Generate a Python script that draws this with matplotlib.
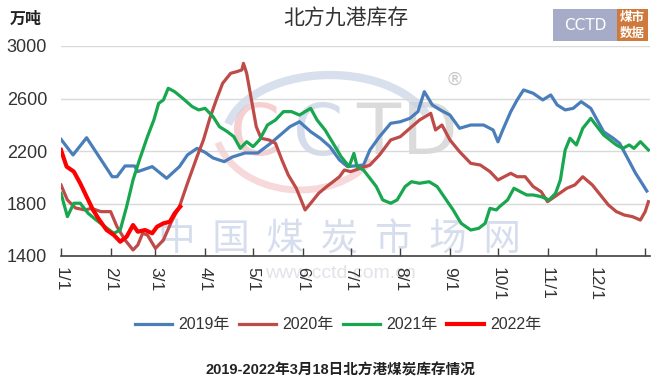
import matplotlib
matplotlib.use("Agg")
import matplotlib.pyplot as plt
from matplotlib.patches import Rectangle, Arc
import numpy as np

plt.rcParams['font.family'] = ['Liberation Sans', 'Noto Sans CJK SC', 'DejaVu Sans']

# ---- data (day of year, value in 万吨) ----
days_2019 = [0, 7.5, 16, 32, 35, 40, 46, 48, 57, 66, 74, 79, 85, 90, 95, 102, 107, 115, 123, 131,
             137, 143, 149, 156, 162, 168, 174, 179, 189, 193, 199, 206, 212, 218, 223, 227, 232,
             237, 243, 249, 256, 264, 270, 273, 276, 281, 285, 289, 295, 301, 306, 310, 315, 320,
             325, 331, 335, 339, 345, 349, 354, 359, 363, 366]
vals_2019 = [2289, 2170, 2301, 2004, 2004, 2086, 2086, 2043, 2081, 1992, 2081, 2170, 2220, 2190,
             2147, 2119, 2154, 2185, 2185, 2259, 2322, 2385, 2423, 2347, 2297, 2233, 2132, 2081,
             2093, 2208, 2309, 2411, 2423, 2449, 2500, 2652, 2551, 2513, 2474, 2373, 2398, 2398,
             2360, 2270, 2360, 2500, 2589, 2665, 2640, 2589, 2627, 2551, 2513, 2525, 2576, 2525,
             2436, 2347, 2297, 2259, 2145, 2030, 1954, 1895]

days_2020 = [0, 4, 9, 15, 19, 25, 31, 35, 40, 45, 48, 51, 54, 59, 64, 69, 74, 79, 85, 89, 93, 97,
             101, 106, 110, 113, 114, 116, 119, 122, 125, 130, 134, 138, 142, 147, 150, 152.5, 156,
             161, 166, 170, 174, 177, 181, 187, 193, 199, 206, 212, 218, 224, 231, 234, 238, 243,
             249, 256, 262, 268, 273, 281, 285, 290, 295, 300, 304, 310, 316, 321, 326, 332, 337,
             342, 347, 352, 357, 362, 365, 367]
vals_2020 = [1941, 1827, 1766, 1751, 1763, 1738, 1738, 1623, 1522, 1446, 1484, 1573, 1560, 1458,
             1522, 1661, 1776, 1954, 2157, 2284, 2449, 2589, 2716, 2792, 2805, 2818, 2868, 2792,
             2589, 2385, 2297, 2284, 2259, 2132, 2017, 1916, 1827, 1751, 1802, 1878, 1929, 1966,
             2004, 2055, 2043, 2068, 2093, 2170, 2284, 2309, 2373, 2436, 2487, 2360, 2398, 2284,
             2195, 2106, 2093, 2043, 1979, 2030, 2004, 2004, 1929, 1890, 1814, 1865, 1916, 1941,
             2004, 1941, 1865, 1789, 1738, 1712, 1700, 1674, 1738, 1814]

days_2021 = [0, 4, 8, 12, 17, 22, 27.5, 33, 37, 41, 45, 49, 54, 58, 61, 64, 67, 71, 76, 82, 86,
             90, 95, 99, 104, 108, 112, 116, 120, 124, 129, 134, 139, 144, 149, 156, 160, 165,
             170, 175, 180, 183, 185, 189, 193, 197, 201, 206, 210, 215, 219, 224, 230, 235, 240,
             245, 250, 256, 261, 265, 268, 272, 274, 279, 283, 287, 291, 295, 300, 305, 309, 312,
             315, 318, 322, 326, 331, 335, 339, 343, 347, 351, 355, 358, 362, 367]
vals_2021 = [1878, 1700, 1802, 1802, 1725, 1674, 1623, 1573, 1598, 1776, 1979, 2132, 2309, 2436,
             2563, 2589, 2678, 2652, 2602, 2538, 2513, 2525, 2462, 2385, 2347, 2309, 2220, 2271,
             2233, 2284, 2398, 2436, 2500, 2500, 2474, 2525, 2436, 2360, 2259, 2157, 2081, 2182,
             2081, 2055, 1992, 1929, 1827, 1802, 1827, 1929, 1966, 1954, 1966, 1929, 1840, 1751,
             1649, 1598, 1611, 1649, 1763, 1751, 1776, 1827, 1916, 1890, 1865, 1865, 1852, 1827,
             1878, 1979, 2208, 2297, 2246, 2373, 2449, 2385, 2322, 2284, 2246, 2220, 2246, 2220,
             2271, 2208]

days_2022 = [0, 3.5, 8, 12, 16, 20, 24, 28.5, 33, 37, 41, 45, 48, 52.5, 57, 60, 64, 68, 71, 74.5]
vals_2022 = [2208, 2081, 2043, 1954, 1852, 1751, 1674, 1598, 1560, 1509, 1547, 1636, 1585, 1598,
             1573, 1623, 1649, 1661, 1725, 1776]

series_names = ['2019年', '2020年', '2021年', '2022年']
series_colors = ['#4A7EBB', '#BE4B48', '#18A74F', '#FF0000']
series_widths = [2.3, 2.3, 2.3, 3.0]

tick_days = [0, 31, 59, 90, 120, 151, 181, 212, 243, 273, 304, 334, 365]
tick_labels = ['1/1', '2/1', '3/1', '4/1', '5/1', '6/1', '7/1', '8/1', '9/1', '10/1', '11/1', '12/1', '']
y_ticks = [1400, 1800, 2200, 2600, 3000]

title = '北方九港库存'
unit = '万吨'
caption = '2019-2022年3月18日北方港煤炭库存情况'

# ---- figure ----
W, H = 659, 385
fig = plt.figure(figsize=(W / 100, H / 100), dpi=100)
fig.patch.set_facecolor('white')
ax = fig.add_axes([61 / W, 1 - 256 / H, (650 - 61) / W, (256 - 46) / H])
ax.set_facecolor('none')

# watermark (behind lines)
ax.text(340 / W, 1 - 240 / H, '中  国  煤  炭  市  场  网', transform=fig.transFigure, ha='center', va='center',
        fontsize=27, color='#C9D3E8', alpha=0.75, zorder=0.5, family=['Noto Sans CJK SC'])
ax.text(340 / W, 1 - 273 / H, 'www.cctd.com.cn', transform=fig.transFigure, ha='center', va='center',
        fontsize=14, color='#DADDE4', alpha=0.8, zorder=0.5)
wm = [('C', 255, '#F4C4C6'), ('C', 318, '#CBD4E6'), ('T', 378, '#D2D2D2'), ('D', 430, '#D2D2D2')]
for ch, xc, col in wm:
    ax.text(xc / W, 1 - 135 / H, ch, transform=fig.transFigure, ha='center', va='center',
            fontsize=52, color=col, alpha=0.8, zorder=0.4, family=['DejaVu Sans'])
arc1 = Arc((330 / W, 1 - 140 / H), 210 / W, 130 / H, theta1=25, theta2=165, transform=fig.transFigure,
           color='#C9D3E6', lw=6, alpha=0.7, zorder=0.4)
arc2 = Arc((300 / W, 1 - 125 / H), 170 / W, 130 / H, theta1=200, theta2=320, transform=fig.transFigure,
           color='#F6CACC', lw=5, alpha=0.7, zorder=0.4)
ax.add_artist(arc1)
ax.add_artist(arc2)
ax.text(455 / W, 1 - 80 / H, '®', transform=fig.transFigure, ha='center', va='center',
        fontsize=13, color='#C8C8C8', zorder=0.4, family=['DejaVu Sans'])

all_days = [days_2019, days_2020, days_2021, days_2022]
all_vals = [vals_2019, vals_2020, vals_2021, vals_2022]
for d, v, name, c, lw in zip(all_days, all_vals, series_names, series_colors, series_widths):
    ax.plot(d, v, color=c, lw=lw, label=name, solid_joinstyle='round', zorder=3)

ax.set_xlim(0, 368)
ax.set_ylim(1400, 3000)
ax.set_yticks(y_ticks)
ax.set_yticklabels([str(t) for t in y_ticks], fontsize=13, color='#333333')
ax.set_xticks(tick_days)
ax.set_xticklabels(tick_labels, rotation=-90, fontsize=12.5, color='#333333')
ax.tick_params(axis='y', length=0, pad=10)
ax.tick_params(axis='x', direction='in', length=6, width=1, color='#404040', pad=8)
for lab in ax.get_xticklabels():
    lab.set_va('top')
    lab.set_ha('center')
ax.grid(axis='y', color='#D9D9D9', lw=1, zorder=0)
ax.set_axisbelow(True)
for s in ['left', 'right', 'top']:
    ax.spines[s].set_visible(False)
ax.spines['bottom'].set_color('#404040')
ax.spines['bottom'].set_linewidth(1.2)

# titles
fig.text(346 / W, 1 - 19 / H, title, ha='center', va='center', fontsize=15, color='#333333')
fig.text(10 / W, 1 - 19 / H, unit, ha='left', va='center', fontsize=11.5, weight='bold', color='#222222')
fig.text(340 / W, 1 - 370 / H, caption, ha='center', va='center', fontsize=10.5, weight='bold', color='#222222')

# logo top right
fig.patches.append(Rectangle((553 / W, 1 - 41 / H), 64 / W, 32 / H, transform=fig.transFigure,
                             facecolor='#A6ABC8', edgecolor='none'))
fig.patches.append(Rectangle((617 / W, 1 - 41 / H), 31 / W, 32 / H, transform=fig.transFigure,
                             facecolor='#CF7A3C', edgecolor='none'))
fig.text(585 / W, 1 - 26 / H, 'CCTD', ha='center', va='center', fontsize=11, color='white',
         family=['DejaVu Sans'])
fig.text(632.5 / W, 1 - 18 / H, '煤市', ha='center', va='center', fontsize=9, color='white',
         weight='bold', family=['Noto Sans CJK SC'])
fig.text(632.5 / W, 1 - 33 / H, '数据', ha='center', va='center', fontsize=9, color='white',
         weight='bold', family=['Noto Sans CJK SC'])

leg = fig.legend(loc='center', bbox_to_anchor=(338 / W, 1 - 325 / H), ncol=4, frameon=False,
                 fontsize=11.5, handlelength=2.3, handletextpad=0.4, columnspacing=0.6)
for t in leg.get_texts():
    t.set_color('#333333')

fig.savefig('out.png', dpi=100)
